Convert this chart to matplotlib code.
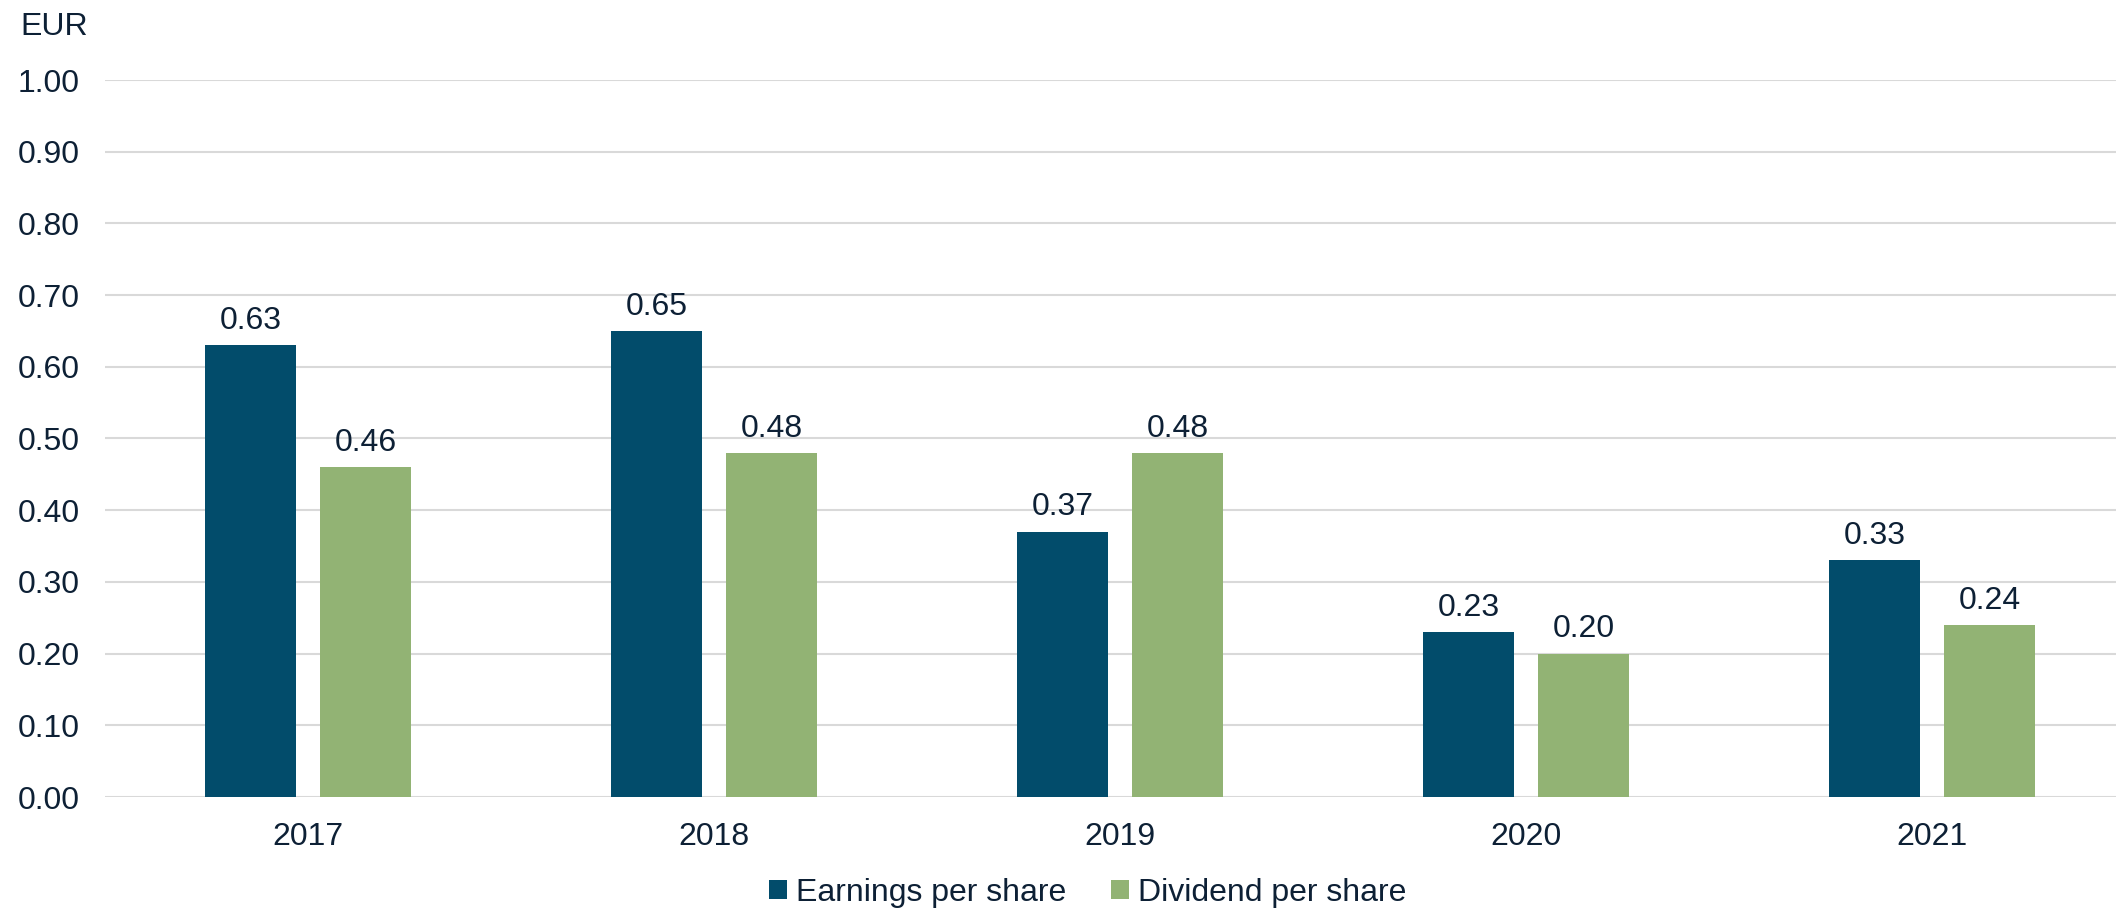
import matplotlib.pyplot as plt
import numpy as np

years = ['2017', '2018', '2019', '2020', '2021']
eps = [0.63, 0.65, 0.37, 0.23, 0.33]
dps = [0.46, 0.48, 0.48, 0.20, 0.24]

navy = '#024c6b'
green = '#92b374'
txt = '#0d2035'

plt.rcParams['font.family'] = ['Liberation Sans', 'DejaVu Sans']

fig = plt.figure(figsize=(21.16, 9.13), dpi=100)
# plot area runs off the right edge of the image, like the original
ax = fig.add_axes([105 / 2116, 1 - 797 / 913, (2116 - 105) / 2116, (797 - 80) / 913])

x = np.arange(len(years))
w = 0.224
b1 = ax.bar(x - 0.142, eps, w, color=navy, label='Earnings per share', zorder=3)
b2 = ax.bar(x + 0.142, dps, w, color=green, label='Dividend per share', zorder=3)

for bars in (b1, b2):
    for r in bars:
        ax.text(r.get_x() + r.get_width() / 2, r.get_height() + 0.013,
                '%.2f' % r.get_height(), ha='center', va='bottom',
                fontsize=23, color=txt)

ax.set_xlim(-0.5, 4.453)
ax.set_ylim(0, 1.0)
ax.set_yticks(np.arange(0, 1.01, 0.1))
ax.set_yticklabels(['%.2f' % v for v in np.arange(0, 1.01, 0.1)])
ax.set_xticks(x)
ax.set_xticklabels(years)
ax.tick_params(axis='both', length=0, labelsize=23, labelcolor=txt)
ax.tick_params(axis='y', pad=18)
ax.tick_params(axis='x', pad=18)
ax.grid(axis='y', color='#d9d9d9', linewidth=1.5, zorder=0)
for s in ax.spines.values():
    s.set_visible(False)

fig.text(20 / 2116, 1 - 27 / 913, 'EUR', fontsize=23, color=txt, va='center', ha='left')

leg = fig.legend(loc='center', bbox_to_anchor=(1088 / 2116, 1 - 893 / 913), ncol=2,
                 frameon=False, fontsize=23, handlelength=0.55, handleheight=0.55,
                 handletextpad=0.3, columnspacing=1.4)
for t in leg.get_texts():
    t.set_color(txt)

fig.savefig('out.png', dpi=100)
